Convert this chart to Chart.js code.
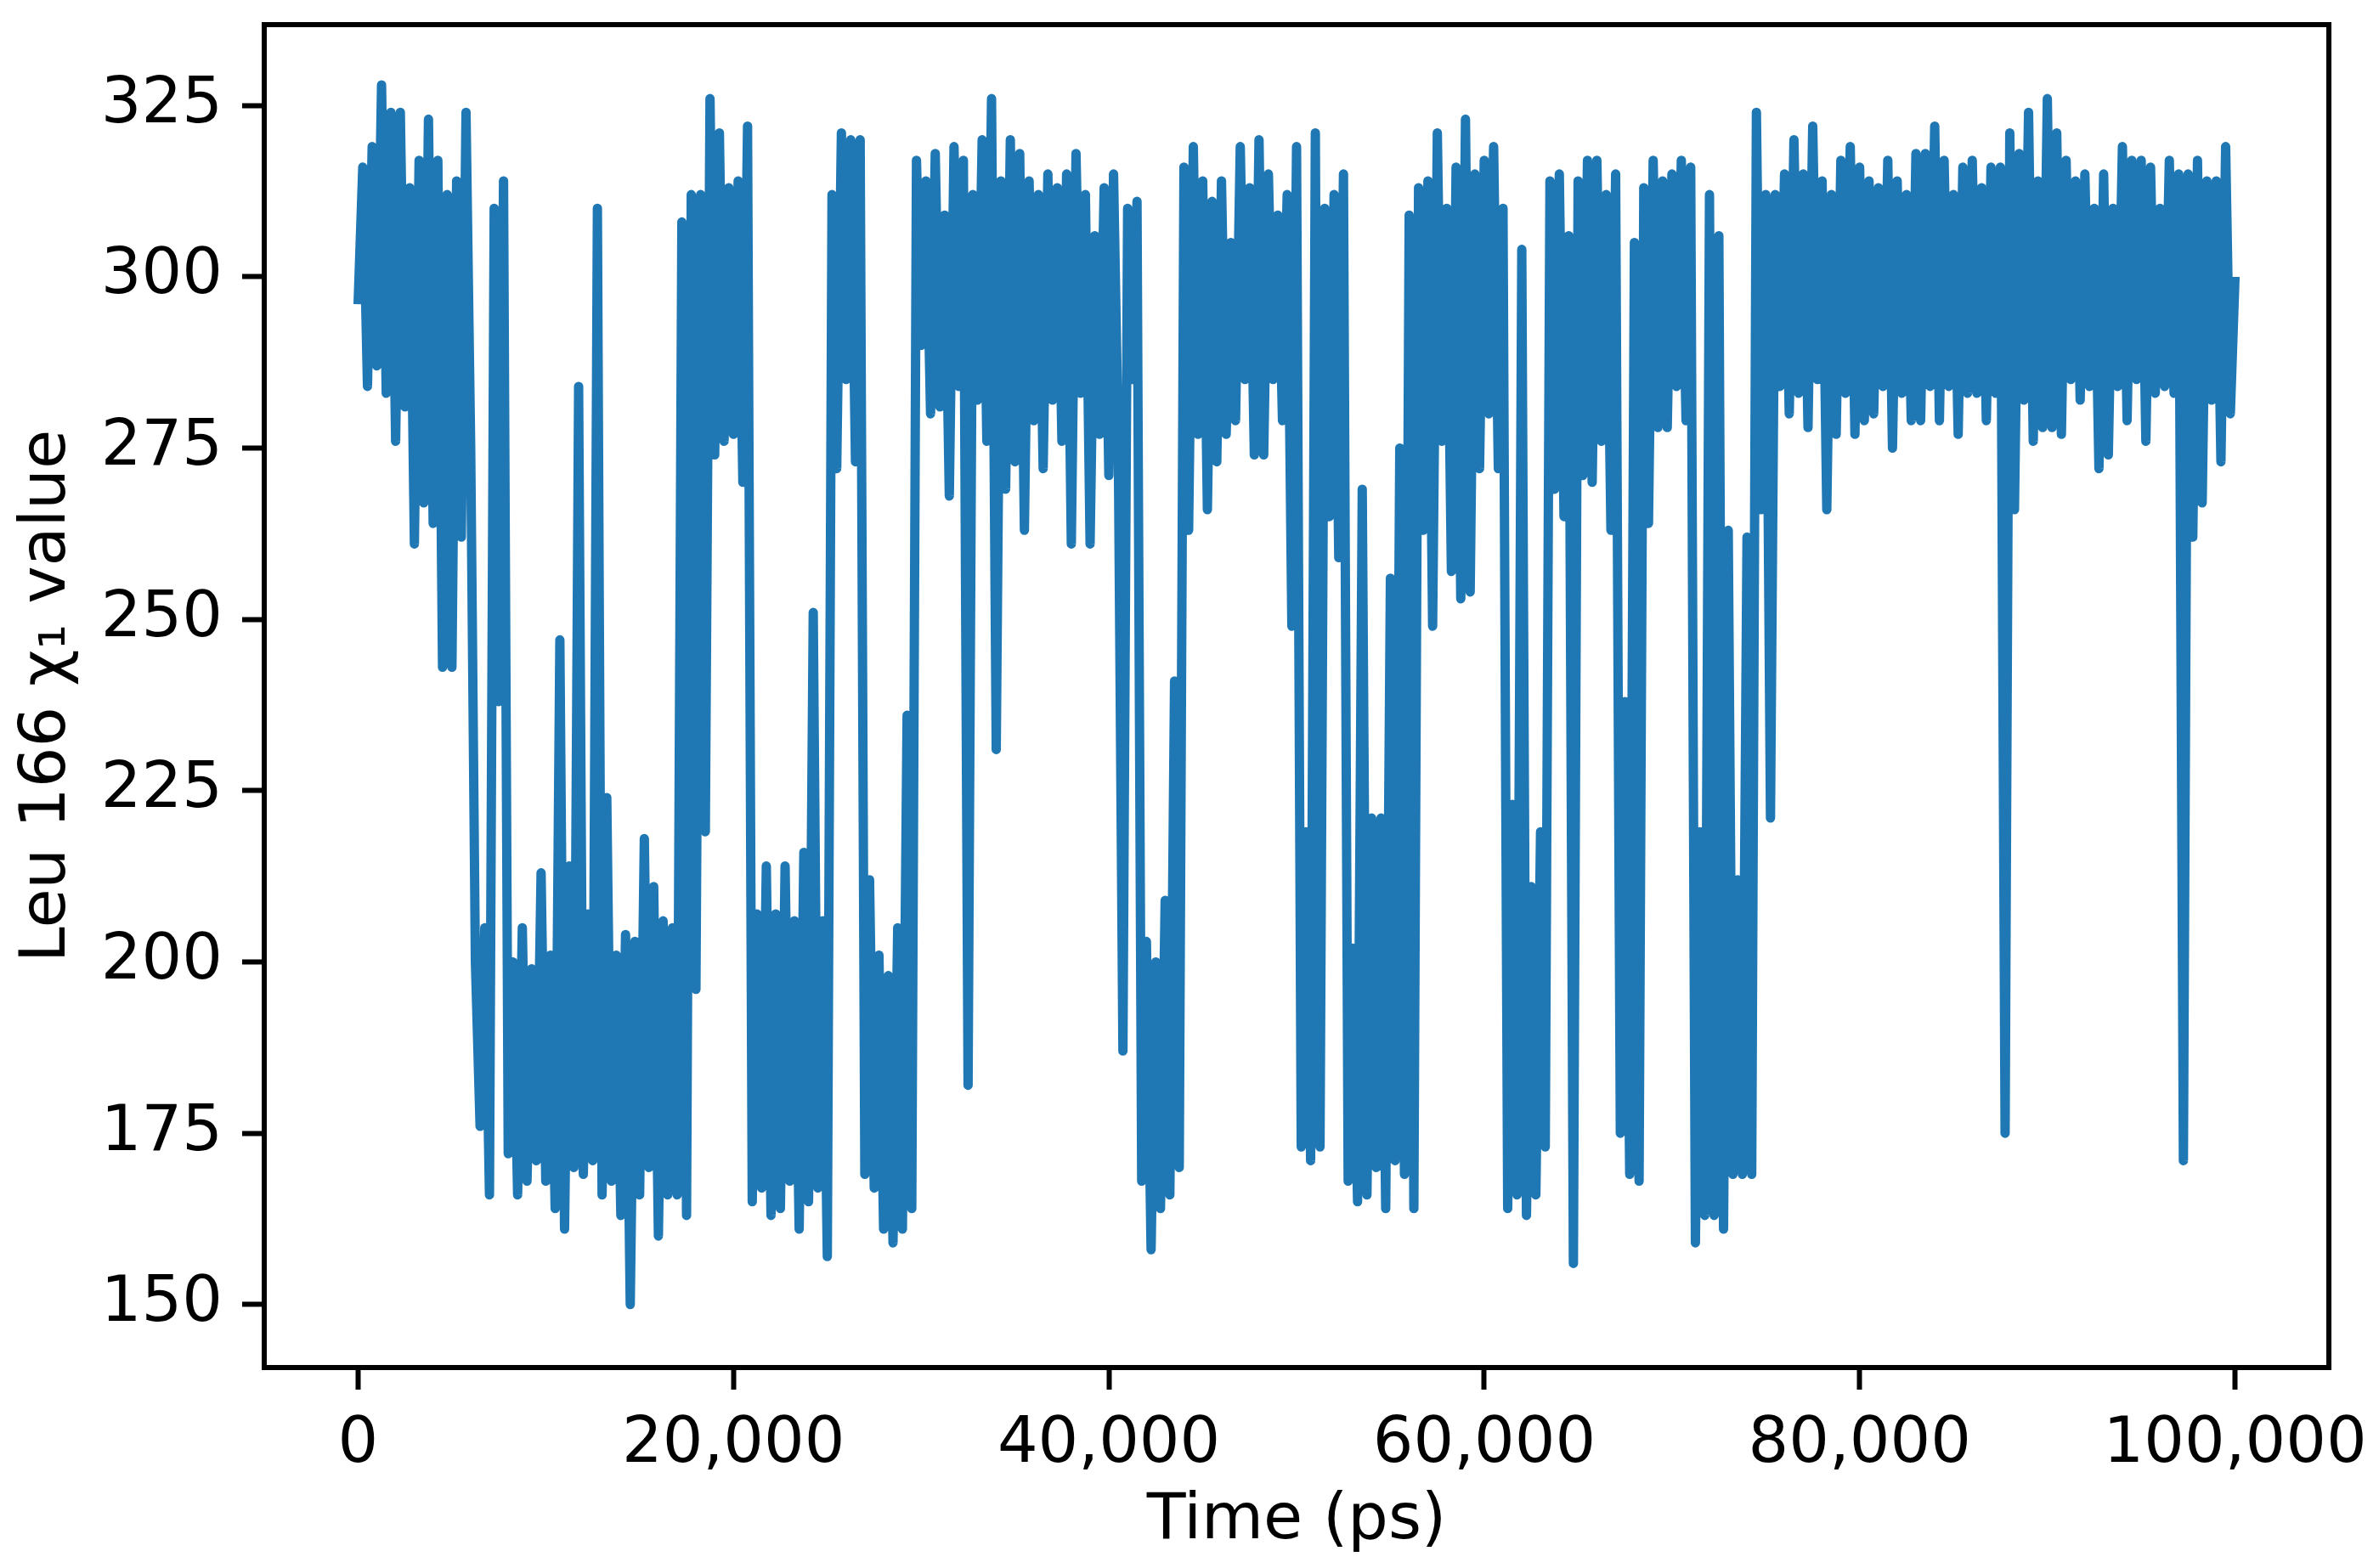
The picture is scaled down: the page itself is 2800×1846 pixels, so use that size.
<!DOCTYPE html>
<html>
<head>
<meta charset="utf-8">
<title>Leu 166 chi1</title>
<script src="https://cdn.jsdelivr.net/npm/chart.js@4.4.1/dist/chart.umd.min.js"></script>
<style>
	html, body { margin: 0; padding: 0; background: #ffffff; }
	canvas { display: block; }
</style>
</head>
<body>
<canvas id="chi1_chart" width="2800" height="1846"></canvas>
<script>
// Leu 166 chi1 dihedral, one frame every 250 ps
const FRAME_PS = 250;
const CHI1 = [
	296, 316, 284, 319, 287, 328, 283, 324, 276, 324,
	281, 313, 261, 317, 267, 323, 264, 317, 243, 312,
	243, 314, 262, 324, 275, 200, 176, 205, 166, 310,
	238, 314, 172, 200, 166, 205, 168, 199, 171, 213,
	168, 201, 164, 247, 161, 214, 170, 284, 169, 207,
	171, 310, 166, 224, 168, 201, 163, 204, 150, 203,
	166, 218, 170, 211, 160, 206, 166, 205, 166, 308,
	163, 312, 196, 312, 219, 326, 274, 321, 276, 313,
	277, 314, 270, 322, 165, 207, 167, 214, 163, 207,
	164, 214, 168, 206, 161, 216, 165, 251, 167, 206,
	157, 312, 272, 321, 285, 320, 273, 320, 169, 212,
	167, 201, 161, 198, 159, 205, 161, 236, 164, 317,
	290, 314, 280, 318, 281, 309, 268, 319, 284, 317,
	182, 312, 282, 320, 276, 326, 231, 314, 269, 320,
	273, 318, 263, 314, 279, 312, 272, 315, 282, 313,
	276, 315, 261, 318, 283, 312, 261, 306, 277, 313,
	271, 315, 276, 187, 310, 285, 311, 168, 203, 158,
	200, 164, 209, 166, 241, 170, 316, 263, 319, 277,
	314, 266, 311, 273, 314, 277, 305, 279, 319, 285,
	313, 274, 320, 274, 315, 285, 309, 279, 312, 249,
	319, 173, 219, 171, 321, 173, 310, 265, 312, 259,
	315, 168, 202, 165, 269, 166, 221, 170, 221, 164,
	256, 171, 275, 169, 309, 164, 313, 263, 314, 249,
	321, 276, 310, 257, 316, 253, 323, 254, 315, 272,
	317, 280, 319, 272, 310, 164, 223, 166, 304, 163,
	211, 166, 219, 173, 314, 269, 315, 265, 306, 156,
	314, 271, 317, 270, 317, 276, 312, 263, 315, 175,
	238, 169, 305, 168, 313, 264, 317, 278, 314, 278,
	315, 284, 317, 279, 316, 159, 219, 163, 312, 163,
	306, 161, 263, 169, 212, 169, 262, 169, 324, 266,
	312, 221, 312, 284, 315, 280, 320, 283, 315, 278,
	322, 285, 314, 266, 312, 277, 317, 283, 319, 277,
	316, 279, 314, 280, 313, 284, 317, 275, 314, 283,
	312, 279, 318, 279, 318, 284, 322, 279, 317, 284,
	312, 277, 316, 283, 317, 283, 313, 279, 316, 283,
	316, 175, 321, 266, 318, 282, 324, 276, 314, 278,
	326, 278, 321, 277, 317, 285, 314, 282, 315, 284,
	310, 272, 315, 274, 310, 284, 319, 279, 317, 285,
	317, 276, 316, 283, 310, 284, 317, 283, 315, 171,
	315, 262, 317, 267, 314, 282, 314, 273, 319, 280,
	300
];
const TIME_PS = CHI1.map((v, i) => i * FRAME_PS);

// tick labels
const X_TICKS = [0, 20000, 40000, 60000, 80000, 100000];
const Y_TICKS = [150, 175, 200, 225, 250, 275, 300, 325];

const FONT = 'DejaVu Sans';
const FONT_SIZE = 75;

// top + right spines (matplotlib box)
const framePlugin = {
	id: 'framePlugin',
	afterDraw(chart) {
		const { ctx, chartArea: { left, right, top, bottom } } = chart;
		ctx.save();
		ctx.strokeStyle = '#000000';
		ctx.lineWidth = 6;
		ctx.strokeRect(left, top, right - left, bottom - top);
		ctx.restore();
	}
};

// no extra room for overhanging tick labels, keep the axes box fixed
function noLabelPadding(scale) {
	scale.paddingTop = 0;
	scale.paddingBottom = 0;
	scale.paddingLeft = 0;
	scale.paddingRight = 0;
}

const points = TIME_PS.map((t, i) => ({ x: t, y: CHI1[i] }));

const ctx = document.getElementById('chi1_chart').getContext('2d');
new Chart(ctx, {
	type: 'line',
	data: {
		datasets: [{
			data: points,
			borderColor: '#1f77b4',
			borderWidth: 11,
			borderJoinStyle: 'round',
			fill: false,
			tension: 0,
			pointRadius: 0,
			pointHoverRadius: 0
		}]
	},
	options: {
		responsive: false,
		animation: false,
		events: [],
		layout: { padding: { top: 29, right: 59, bottom: 0, left: 0 } },
		plugins: {
			legend: { display: false },
			tooltip: { enabled: false }
		},
		scales: {
			x: {
				type: 'linear',
				min: -5000,
				max: 105000,
				afterFit: (scale) => { scale.height = 236; noLabelPadding(scale); },
				afterBuildTicks: (scale) => { scale.ticks = X_TICKS.map(v => ({ value: v })); },
				ticks: {
					autoSkip: false,
					maxRotation: 0,
					padding: 21,
					color: '#000000',
					font: { family: FONT, size: FONT_SIZE },
					callback: (value) => value.toLocaleString('en-US')
				},
				grid: { drawOnChartArea: false, drawTicks: true, tickLength: 26, tickWidth: 6, tickColor: '#000000' },
				border: { display: true, color: '#000000', width: 6 },
				title: {
					display: true,
					text: 'Time (ps)',
					color: '#000000',
					font: { family: FONT, size: FONT_SIZE },
					padding: { top: 0, bottom: 9 }
				}
			},
			y: {
				type: 'linear',
				min: 140.8,
				max: 336.8,
				afterFit: (scale) => { scale.width = 311; noLabelPadding(scale); },
				afterBuildTicks: (scale) => { scale.ticks = Y_TICKS.map(v => ({ value: v })); },
				ticks: {
					autoSkip: false,
					padding: 23,
					color: '#000000',
					font: { family: FONT, size: FONT_SIZE },
					callback: (value) => String(value)
				},
				grid: { drawOnChartArea: false, drawTicks: true, tickLength: 26, tickWidth: 6, tickColor: '#000000' },
				border: { display: true, color: '#000000', width: 6 },
				title: {
					display: true,
					text: 'Leu 166 \u03C7\u2081 value',
					color: '#000000',
					font: { family: FONT, size: FONT_SIZE },
					padding: { top: 12, bottom: 0 }
				}
			}
		}
	},
	plugins: [framePlugin]
});
</script>
</body>
</html>
